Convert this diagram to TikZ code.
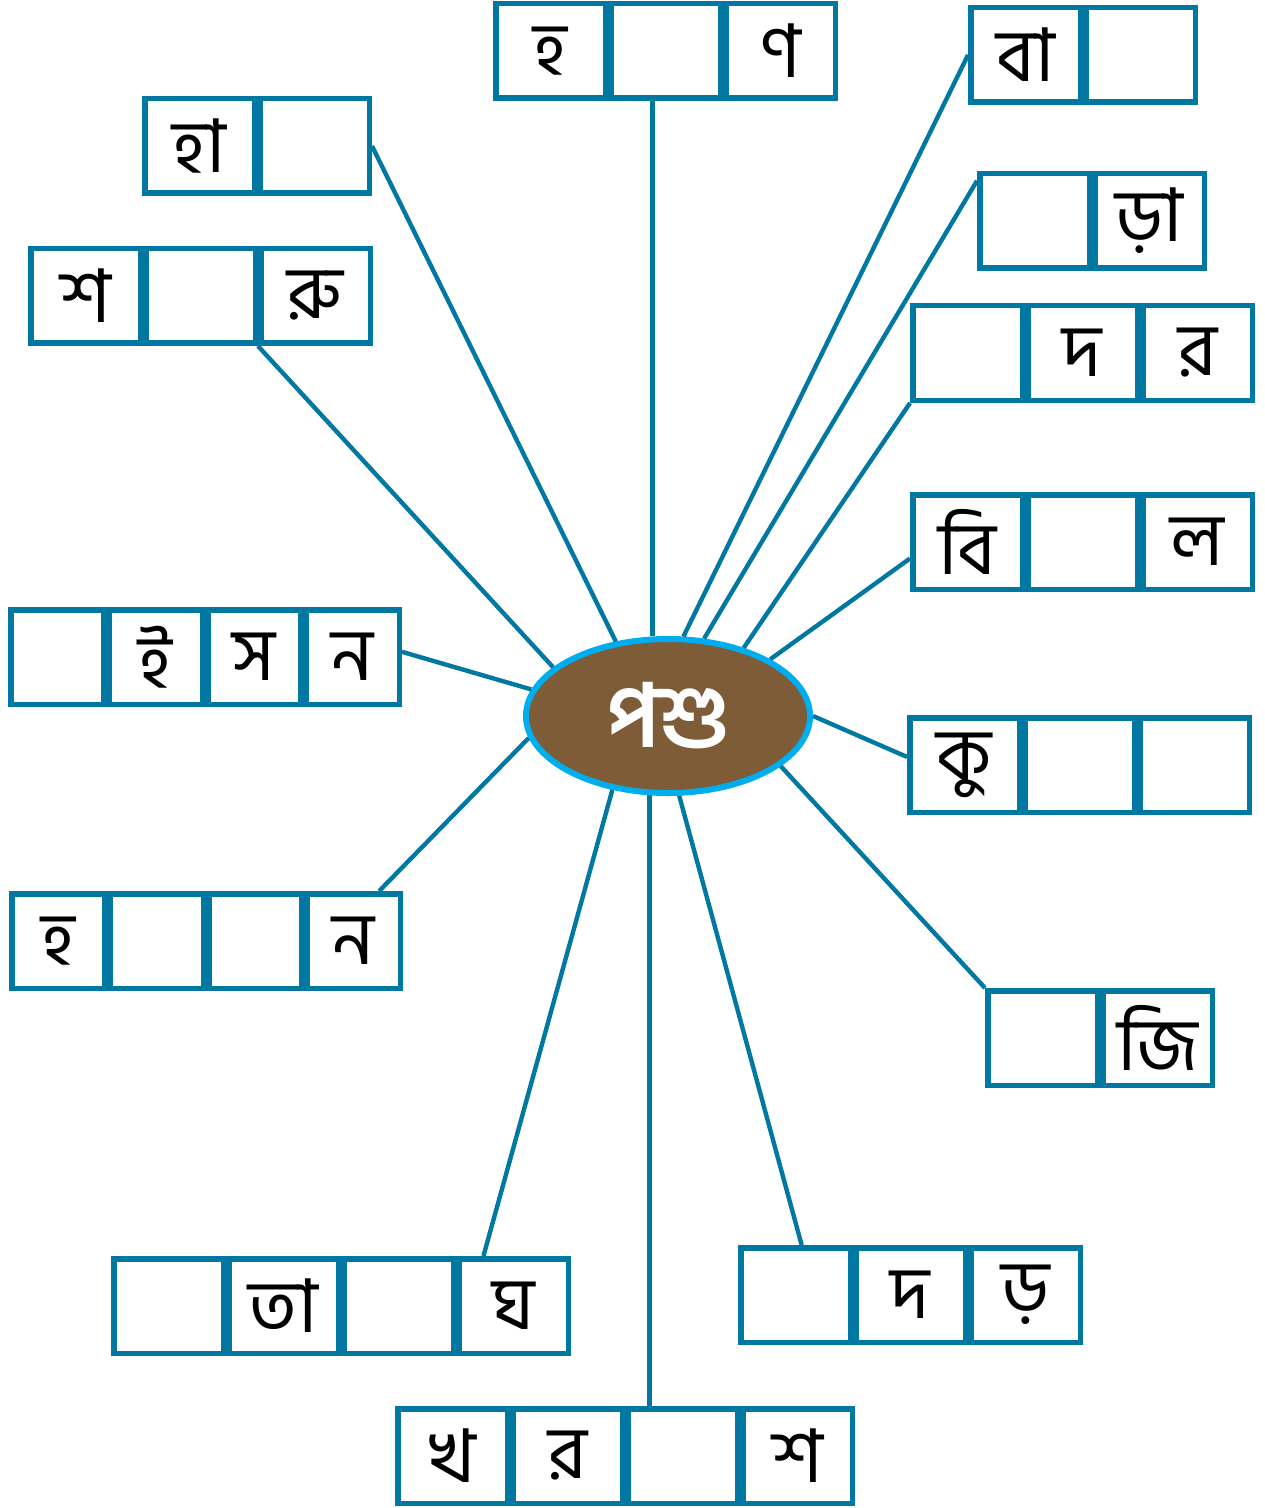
\documentclass[tikz,border=0pt]{standalone}
\usepackage{fontspec}
\newfontfamily\bngfont[Script=Bengali]{Hind Siliguri}
\usetikzlibrary{positioning,shapes.geometric}
\definecolor{ppBlue}{HTML}{0078A2}
\definecolor{ppBrown}{HTML}{7E5C38}
\definecolor{ppCyan}{HTML}{00AEEF}

\begin{document}
\begin{tikzpicture}[
  x=0.5pt, y=-0.5pt, font=\bngfont\fontsize{37}{39}\selectfont,
  cell/.style  ={draw=ppBlue, line width=2.75pt, minimum width=54.75pt, minimum height=47.25pt, inner sep=0pt},
  narrow/.style={cell, minimum width=46.5pt},
  link/.style  ={draw=ppBlue, line width=2.2pt},
  hub/.style   ={ellipse, draw=ppCyan, fill=ppBrown, line width=3pt, minimum width=142pt,
                 minimum height=77pt, inner sep=0pt, text=white, font=\bngfont\bfseries\fontsize{44}{46}\selectfont}]
  \useasboundingbox (0,0) rectangle (1264,1508);
  \node[hub] (pashu) at (668,716) {পশু};
  % top
  \node[cell, anchor=north west] (hn1) at (493,1) {হ};
  \node[cell, right=0pt of hn1] (hn2) {}; \node[cell, right=0pt of hn2] (hn3) {ণ};
  % right side
  \node[cell, anchor=north west] (ba1) at (968,5) {বা};
  \node[cell, right=0pt of ba1] (ba2) {};
  \node[cell, anchor=north west] (ra1) at (977,171) {};
  \node[cell, right=0pt of ra1] (ra2) {ড়া};
  \node[cell, anchor=north west] (dr1) at (910,303) {};
  \node[cell, right=0pt of dr1] (dr2) {দ}; \node[cell, right=0pt of dr2] (dr3) {র};
  \node[cell, anchor=north west] (bl1) at (910,492) {বি};
  \node[cell, right=0pt of bl1] (bl2) {}; \node[cell, right=0pt of bl2] (bl3) {ল};
  \node[cell, anchor=north west] (ku1) at (907,715) {কু};
  \node[cell, right=0pt of ku1] (ku2) {}; \node[cell, right=0pt of ku2] (ku3) {};
  \node[cell, anchor=north west] (ji1) at (985,988) {};
  \node[cell, right=0pt of ji1] (ji2) {জি};
  % bottom
  \node[cell, anchor=north west] (dd1) at (738,1245) {};
  \node[cell, right=0pt of dd1] (dd2) {দ}; \node[cell, right=0pt of dd2] (dd3) {ড়};
  \node[cell, anchor=north west] (kh1) at (395,1406) {খ};
  \node[cell, right=0pt of kh1] (kh2) {র}; \node[cell, right=0pt of kh2] (kh3) {};
  \node[cell, right=0pt of kh3] (kh4) {শ};
  \node[cell, anchor=north west] (tg1) at (111,1256) {};
  \node[cell, right=0pt of tg1] (tg2) {তা}; \node[cell, right=0pt of tg2] (tg3) {};
  \node[cell, right=0pt of tg3] (tg4) {ঘ};
  % left side
  \node[narrow, anchor=north west] (hh1) at (9,891) {হ};
  \node[narrow, right=0pt of hh1] (hh2) {}; \node[narrow, right=0pt of hh2] (hh3) {};
  \node[narrow, right=0pt of hh3] (hh4) {ন};
  \node[narrow, anchor=north west] (is1) at (8,607) {};
  \node[narrow, right=0pt of is1] (is2) {ই}; \node[narrow, right=0pt of is2] (is3) {স};
  \node[narrow, right=0pt of is3] (is4) {ন};
  \node[cell, anchor=north west] (sr1) at (28,246) {শ};
  \node[cell, right=0pt of sr1] (sr2) {}; \node[cell, right=0pt of sr2] (sr3) {রু};
  \node[cell, anchor=north west] (ha1) at (142,96) {হা};
  \node[cell, right=0pt of ha1] (ha2) {};
  % links to the hub
  \draw[link] (hn2.south -| pashu.101) -- (pashu.101);
  \draw[link] (ba1.west) -- (pashu.79);
  \draw[link] (ra1.145) -- (pashu.65);
  \draw[link] (dr1.south west) -- (pashu.42);
  \draw[link] (bl1.196) -- (pashu.29);
  \draw[link] (ku1.172) -- (pashu.0);
  \draw[link] (ji1.north west) -- (pashu.-24);
  \draw[link] (dd1.83) -- (pashu.-82);
  \draw[link] (kh3.north -| pashu.-103) -- (pashu.-103);
  \draw[link] (tg4.121) -- (pashu.-127);
  \draw[link] (hh4.63) -- (pashu.-171);
  \draw[link] (is4.6) -- (pashu.169);
  \draw[link] (sr2.south east) -- (pashu.157);
  \draw[link] (ha2.east) -- (pashu.125);
\end{tikzpicture}
\end{document}
